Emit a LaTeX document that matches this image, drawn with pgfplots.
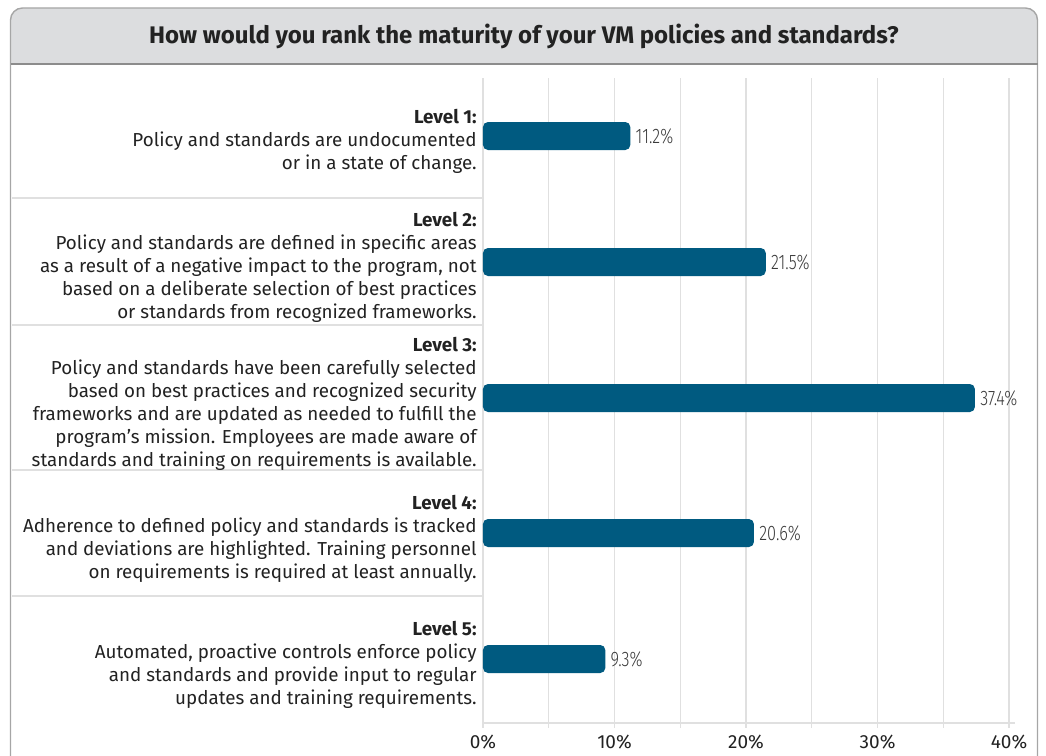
\documentclass[border=0pt]{standalone}
\usepackage{pgfplots}
\pgfplotsset{compat=1.18}
\usepackage{fontspec}
\setmainfont{Fira Sans}
\newfontfamily\cond{Fira Sans Light}[FakeStretch=0.78]
\definecolor{barblue}{HTML}{005A80}
\definecolor{titlebg}{HTML}{DCDDDF}
\definecolor{framegray}{HTML}{A6A6A6}
\definecolor{titleline}{HTML}{8C8C8C}
\definecolor{gridgray}{HTML}{E0E0E0}
\definecolor{labelgray}{HTML}{3A3A3A}
\definecolor{txt}{HTML}{222222}
\begin{document}
\begin{tikzpicture}
\begin{scope}[x=0.5pt,y=-0.5pt]
\path[use as bounding box] (0,0) rectangle (1046,750);
\fill[titlebg] (10.5,64) [rounded corners=6pt]-- (10.5,8) -- (1037.5,8) [sharp corners]-- (1037.5,64) -- cycle;
\draw[framegray, line width=0.7pt] (10.5,800) [rounded corners=6pt]-- (10.5,8) -- (1037.5,8) [sharp corners]-- (1037.5,800);
\draw[titleline, line width=0.9pt] (10.5,64) -- (1037.5,64);
\node[font=\bfseries\fontsize{12}{14}\selectfont, text=txt] at (524,36) {How would you rank the maturity of your VM policies and standards?};
\foreach \yy in {198,325,470,596} \draw[gridgray, line width=0.6pt] (12,\yy) -- (483,\yy);
\end{scope}
\begin{axis}[
  at={(241.5pt,-361.5pt)}, anchor=south west,
  scale only axis, width=266pt, height=322.5pt,
  xmin=0, xmax=40.45, ymin=78, ymax=723, y dir=reverse,
  xbar, bar width=14pt, bar shift=0pt,
  xtick={0,10,20,30,40}, minor xtick={5,15,25,35},
  xticklabel={\pgfmathprintnumber{\tick}\%},
  /pgf/number format/assume math mode=true,
  xmajorgrids, xminorgrids,
  major grid style={gridgray, line width=0.6pt},
  minor grid style={gridgray, line width=0.6pt},
  axis x line*=bottom, axis y line*=left,
  x axis line style={gridgray, line width=0.8pt, -},
  y axis line style={draw=none},
  tick align=outside, major tick length=2.5pt, minor tick length=2.5pt,
  xtick style={gridgray, line width=0.6pt},
  ytick style={draw=none},
  ytick={136,262,398,533,659},
  yticklabels={
    {\textbf{Level 1:}\\Policy and standards are undocumented\\or in a state of change.},
    {\textbf{Level 2:}\\Policy and standards are defined in specific areas\\as a result of a negative impact to the program, not\\based on a deliberate selection of best practices\\or standards from recognized frameworks.},
    {\textbf{Level 3:}\\Policy and standards have been carefully selected\\based on best practices and recognized security\\frameworks and are updated as needed to fulfill the\\program’s mission. Employees are made aware of\\standards and training on requirements is available.},
    {\textbf{Level 4:}\\Adherence to defined policy and standards is tracked\\and deviations are highlighted. Training personnel\\on requirements is required at least annually.},
    {\textbf{Level 5:}\\Automated, proactive controls enforce policy\\and standards and provide input to regular\\updates and training requirements.}
  },
  yticklabel style={align=right, font=\fontsize{9.4}{11.5}\selectfont, text=txt, inner sep=0pt, xshift=-0.5pt, yshift=-2.75pt},
  xticklabel style={font=\fontsize{9.5}{11}\selectfont, text=txt},
  point meta=x,
  nodes near coords={\pgfmathprintnumber[fixed,fixed zerofill,precision=1]{\pgfplotspointmeta}\%},
  nodes near coords style={font=\cond\fontsize{10.5}{12}\selectfont, text=labelgray, anchor=west, inner sep=2.5pt},
  clip=false,
]
\addplot[fill=barblue, draw=none, rounded corners=2.5pt] coordinates {(11.2,136) (21.5,262) (37.4,398) (20.6,533) (9.3,659)};
\end{axis}
\end{tikzpicture}
\end{document}
